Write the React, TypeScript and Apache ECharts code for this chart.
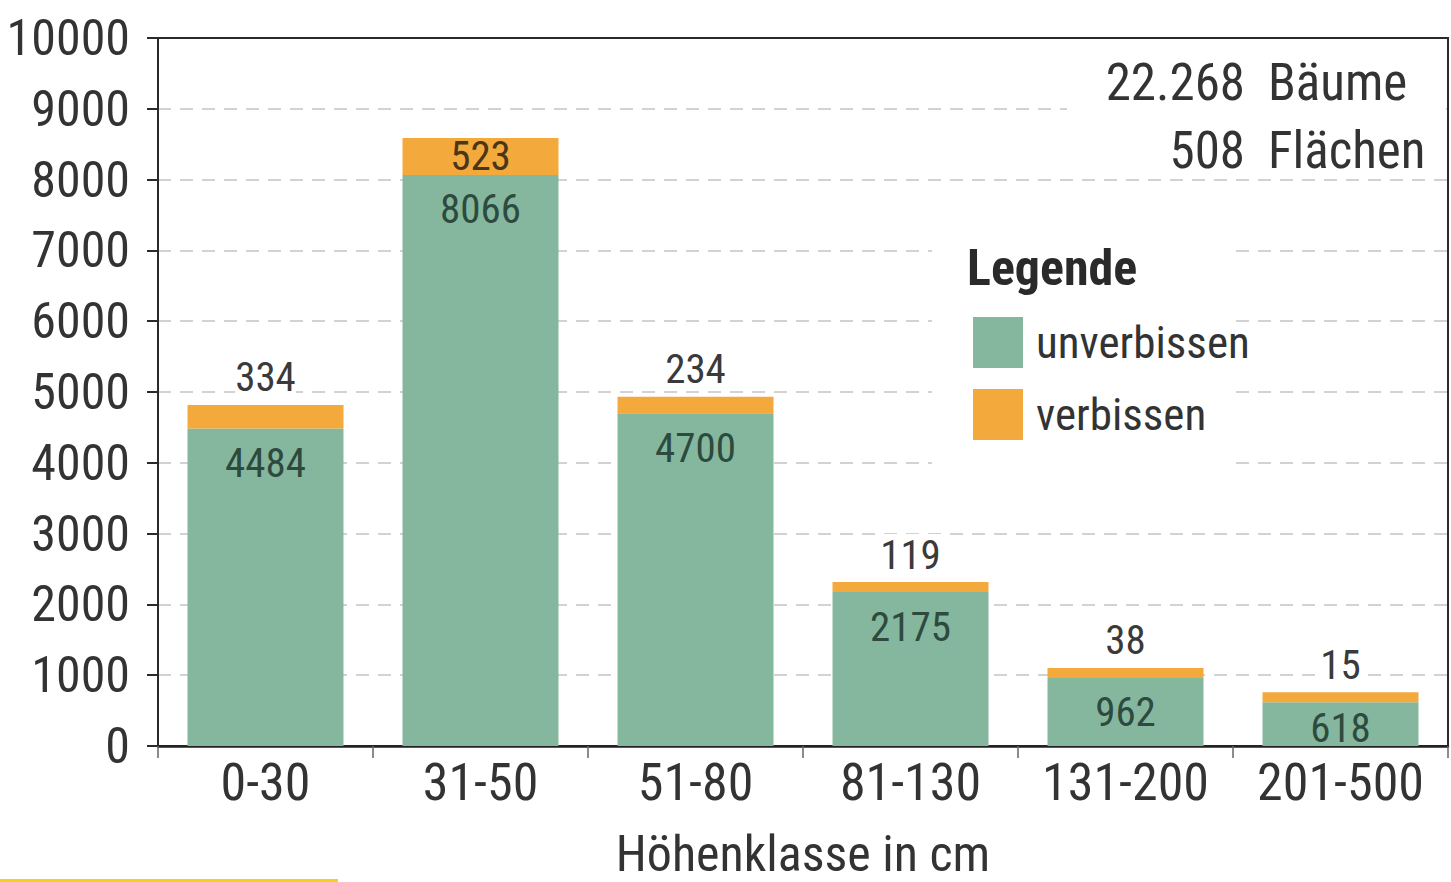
import React, { useEffect, useRef } from "react";
import * as echarts from "echarts";

const categories = ["0-30", "31-50", "51-80", "81-130", "131-200", "201-500"];
const unverbissen = [4484, 8066, 4700, 2175, 962, 618];
const verbissen = [334, 523, 234, 119, 38, 15];
const yTicks = { min: 0, max: 10000, interval: 1000 };
const infoNumbers = ["22.268", "508"];
const infoWords = ["Bäume", "Flächen"];
const seriesNames = ["unverbissen", "verbissen"];

const FONT = '"Roboto Condensed", "Liberation Sans Narrow", "Liberation Sans", Arial, sans-serif';
const GREEN = "#84b79e";
const ORANGE = "#f4a93c";

export default function App() {
  const ref = useRef<HTMLDivElement>(null);
  useEffect(() => {
    if (!ref.current) return;
    const chart = echarts.init(ref.current, null, { renderer: "svg" });
    const greenData = unverbissen.map((v, i) =>
      i === unverbissen.length - 1 ? { value: v, label: { distance: 5 } } : v
    );
    const orangeData = verbissen.map((v, i) =>
      i === 1
        ? {
            value: v,
            label: {
              position: "inside",
              backgroundColor: "transparent",
              color: "#4a3618",
            },
          }
        : v
    );
    const txt = (text: string, x: number, y: number, size: number, align: string, bold = false) => ({
      type: "text",
      z: 6,
      x,
      y,
      style: {
        text,
        fontSize: size,
        fontWeight: bold ? "bold" : "normal",
        fontFamily: FONT,
        fill: bold ? "#2a2a2a" : "#333",
        align,
        verticalAlign: "middle",
        textAlign: align,
        textVerticalAlign: "middle",
      },
    });
    chart.setOption({
      animation: false,
      backgroundColor: "#ffffff",
      textStyle: { fontFamily: FONT },
      grid: {
        left: 158,
        right: 3,
        top: 38,
        bottom: 136,
        show: true,
        borderColor: "#2a2a2a",
        borderWidth: 2,
        containLabel: false,
        outerBoundsMode: "none",
      },
      legend: {
        data: seriesNames,
        orient: "vertical",
        left: 968,
        top: 312,
        itemWidth: 50,
        itemHeight: 51,
        itemGap: 21,
        icon: "rect",
        selectedMode: false,
        textStyle: { fontSize: 45, color: "#333", fontFamily: FONT, padding: [0, 0, 0, 8] },
      },
      xAxis: {
        type: "category",
        data: categories,
        name: "Höhenklasse in cm",
        nameLocation: "middle",
        nameGap: 87,
        nameTextStyle: { fontSize: 50, lineHeight: 42, color: "#333", fontFamily: FONT },
        axisLine: { show: true, lineStyle: { color: "#222", width: 2.5 } },
        axisTick: { show: true, length: 12, interval: 0, lineStyle: { color: "#666", width: 1.5 } },
        axisLabel: { fontSize: 52, color: "#333", margin: 10, interval: 0, fontFamily: FONT },
        splitLine: { show: false },
      },
      yAxis: {
        type: "value",
        min: yTicks.min,
        max: yTicks.max,
        interval: yTicks.interval,
        axisLine: { show: true, lineStyle: { color: "#2a2a2a", width: 2 } },
        axisTick: { show: true, length: 11, lineStyle: { color: "#2a2a2a", width: 2 } },
        axisLabel: {
          fontSize: 50,
          color: "#333",
          margin: 28,
          fontFamily: FONT,
          formatter: (v: number) => String(v),
        },
        splitLine: {
          show: true,
          showMinLine: false,
          showMaxLine: false,
          lineStyle: { color: "#c4c4c4", width: 1.5, type: [13, 9] },
        },
      },
      series: [
        {
          name: seriesNames[0],
          type: "bar",
          stack: "total",
          barWidth: 156,
          data: greenData,
          itemStyle: { color: GREEN },
          label: {
            show: true,
            position: "insideTop",
            distance: 14,
            fontSize: 41,
            color: "#2e4a3e",
            fontFamily: FONT,
          },
        },
        {
          name: seriesNames[1],
          type: "bar",
          stack: "total",
          barWidth: 156,
          barMinHeight: 10,
          data: orangeData,
          itemStyle: { color: ORANGE },
          label: {
            show: true,
            position: "top",
            distance: 7,
            fontSize: 41,
            color: "#3a3a3a",
            backgroundColor: "#ffffff",
            fontFamily: FONT,
          },
        },
      ],
      graphic: [
        { type: "rect", z: 1, shape: { x: 1067, y: 60, width: 379, height: 110 }, style: { fill: "#ffffff" } },
        { type: "rect", z: 1, shape: { x: 932, y: 200, width: 304, height: 300 }, style: { fill: "#ffffff" } },
        txt(infoNumbers[0], 1245, 82, 51, "right"),
        txt(infoWords[0], 1268, 82, 51, "left"),
        txt(infoNumbers[1], 1245, 150, 51, "right"),
        txt(infoWords[1], 1268, 150, 51, "left"),
        txt("Legende", 967, 268, 50, "left", true),
        { type: "rect", z: 6, shape: { x: 0, y: 879, width: 338, height: 3 }, style: { fill: "#f7d117" } },
      ],
    });
    return () => chart.dispose();
  }, []);
  return (
    <div
      ref={ref}
      style={{ position: "fixed", left: 0, top: 0, width: 1451, height: 882, background: "#fff" }}
    />
  );
}
